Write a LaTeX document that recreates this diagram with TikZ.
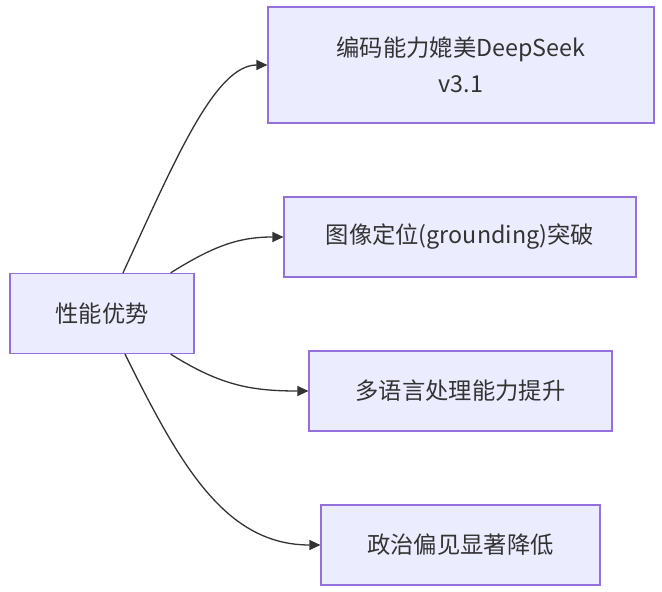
\documentclass[tikz,border=0pt]{standalone}
\usepackage{fontspec}
\setmainfont{Noto Sans CJK SC}
\usetikzlibrary{arrows.meta}
\definecolor{boxfill}{HTML}{ECECFF}
\definecolor{boxline}{HTML}{9370DB}
\definecolor{ink}{HTML}{333333}
\tikzset{
	box/.style={draw=boxline,fill=boxfill,line width=1.2pt,text=ink,font=\fontsize{23.3}{36}\selectfont,inner sep=0pt,align=center},
	link/.style={draw=ink,line width=1.3pt,-{Triangle[length=11pt,width=10pt]}}
}
\begin{document}
\begin{tikzpicture}[x=1pt,y=-1pt]
	\useasboundingbox (0,0) rectangle (662,592);

	\node[box,minimum width=184,minimum height=80] (adv) at (102,313.5) {性能优势};
	\node[box,minimum width=386,minimum height=116] (code) at (461,65) {编码能力媲美DeepSeek\\v3.1};
	\node[box,minimum width=352,minimum height=80] (ground) at (460,237) {图像定位(grounding)突破};
	\node[box,minimum width=303,minimum height=80] (lang) at (460.5,391) {多语言处理能力提升};
	\node[box,minimum width=279,minimum height=80] (bias) at (460.5,545) {政治偏见显著降低};

	\draw[link] (adv.north) ++(21,0) .. controls (175,160) and (215,65) .. (code.west);
	\draw[link] (adv.north east) ++(-24,0) .. controls (215,245) and (240,237) .. (ground.west);
	\draw[link] (adv.south east) ++(-24,0) .. controls (220,385) and (250,391) .. (lang.west);
	\draw[link] (adv.south) ++(23,0) .. controls (180,465) and (225,545) .. (bias.west);
\end{tikzpicture}
\end{document}
